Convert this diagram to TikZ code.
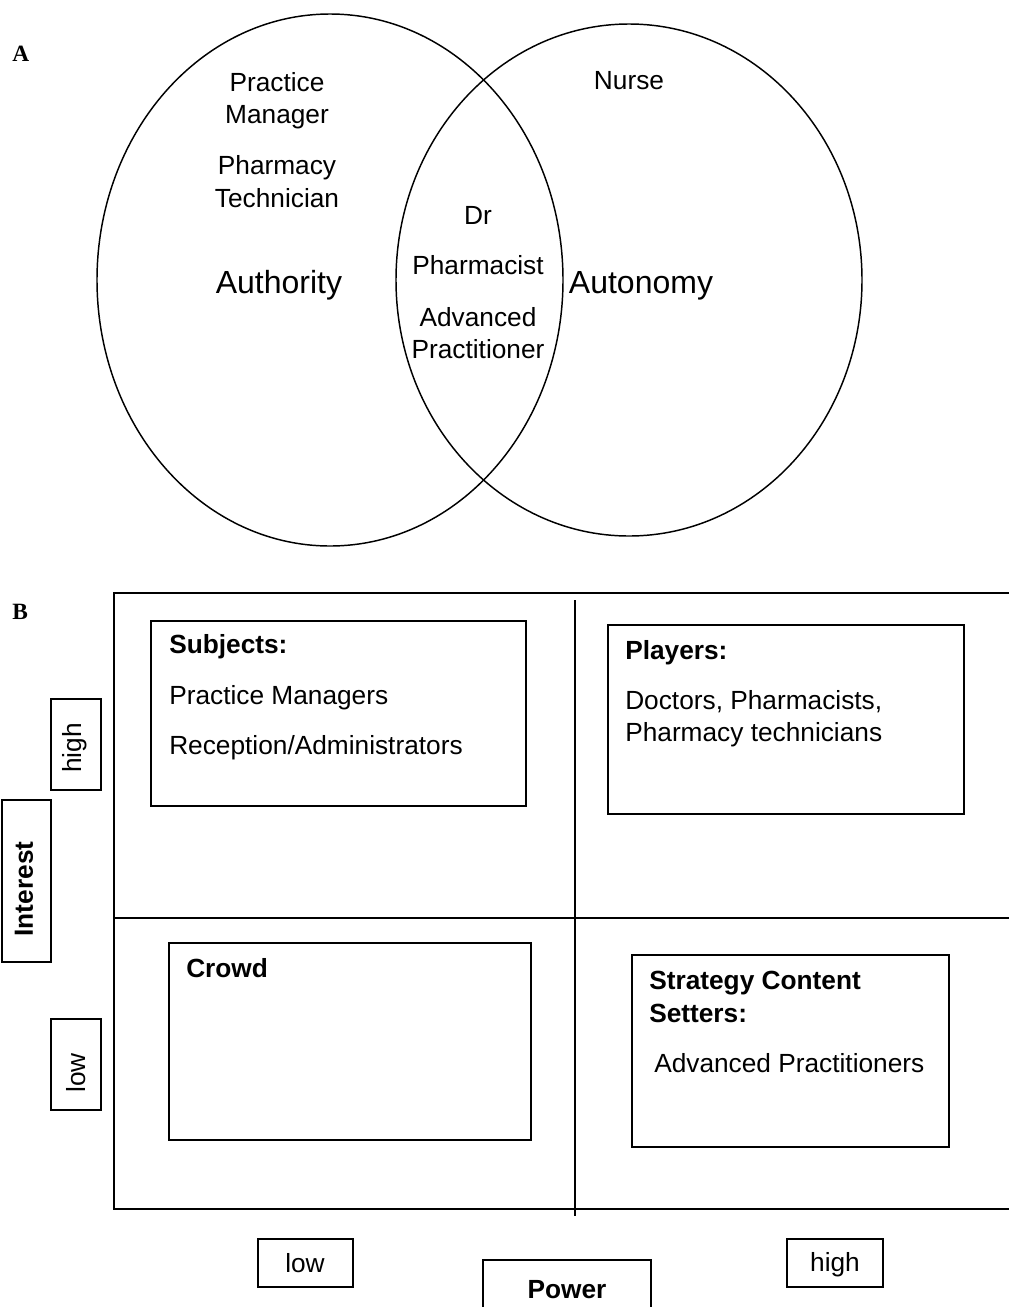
\documentclass[tikz,border=0pt]{standalone}
\usepackage{fontspec}
\setmainfont{Liberation Sans}
\newfontfamily\panelfont{Liberation Serif}

\tikzset{
    txt/.style={font=\fontsize{19.7}{24}\selectfont, inner sep=0pt, anchor=base},
    txtl/.style={txt, anchor=base west},
    txtb/.style={txtl, font=\bfseries\fontsize{19.7}{24}\selectfont},
    bigtxt/.style={font=\fontsize{24}{29}\selectfont, inner sep=0pt, anchor=base},
    panel/.style={font=\panelfont\bfseries\fontsize{17.5}{20}\selectfont, inner sep=0pt, anchor=base west},
    venn/.style={line width=1.1pt},
    gridline/.style={line width=1.5pt},
    box/.style={line width=1pt},
}

\begin{document}
\begin{tikzpicture}[x=0.75pt, y=-0.75pt]
    \useasboundingbox (0,0) rectangle (1009,1307);

    % panel A: venn diagram
    \node[panel] (labA) at (12,61) {A};
    \draw[venn] (330,280) ellipse [x radius=233, y radius=266];
    \draw[venn] (629,280) ellipse [x radius=233, y radius=256];

    \node[txt] (pm1) at (277,91) {Practice};
    \node[txt] (pm2) at (277,123) {Manager};
    \node[txt] (pt1) at (277,174) {Pharmacy};
    \node[txt] (pt2) at (277,207) {Technician};
    \node[bigtxt] (auth) at (279,293) {Authority};

    \node[txt] (nurse) at (629,89) {Nurse};
    \node[bigtxt] (auton) at (641,293) {Autonomy};

    \node[txt] (dr) at (478,224) {Dr};
    \node[txt] (pharm) at (478,274) {Pharmacist};
    \node[txt] (adv1) at (478,326) {Advanced};
    \node[txt] (adv2) at (478,358) {Practitioner};

    % panel B: power / interest grid
    \node[panel] (labB) at (12,619) {B};
    \draw[gridline] (1015,593) -- (114,593) -- (114,1209) -- (1015,1209);
    \draw[gridline] (114,918) -- (1015,918);
    \draw[gridline] (575,600) -- (575,1216);

    \draw[box] (151,621) rectangle (526,806);
    \node[txtb] (subj) at (169,653) {Subjects:};
    \node[txtl] (subj1) at (169,704) {Practice Managers};
    \node[txtl] (subj2) at (169,754) {Reception/Administrators};

    \draw[box] (608,625) rectangle (964,814);
    \node[txtb] (play) at (625,659) {Players:};
    \node[txtl] (play1) at (625,709) {Doctors, Pharmacists,};
    \node[txtl] (play2) at (625,741) {Pharmacy technicians};

    \draw[box] (169,943) rectangle (531,1140);
    \node[txtb] (crowd) at (186,977) {Crowd};

    \draw[box] (632,955) rectangle (949,1147);
    \node[txtb] (strat1) at (649,989) {Strategy Content};
    \node[txtb] (strat2) at (649,1022) {Setters:};
    \node[txtl] (strat3) at (654,1072) {Advanced Practitioners};

    % axis labels
    \draw[box] (51,699) rectangle (101,790);
    \node[txt, anchor=center, rotate=90] (ihigh) at (75,748) {high};
    \draw[box] (2,800) rectangle (51,962);
    \node[txtb, anchor=center, rotate=90] (interest) at (24,889) {Interest};
    \draw[box] (51,1019) rectangle (101,1110);
    \node[txt, anchor=center, rotate=90] (ilow) at (76,1073) {low};

    \draw[box] (258,1239) rectangle (353,1287);
    \node[txt] (plow) at (305,1272) {low};
    \draw[box] (787,1239) rectangle (883,1287);
    \node[txt] (phigh) at (835,1271) {high};
    \draw[box] (483,1320) -- (483,1260) -- (651,1260) -- (651,1320);
    \node[txtb, anchor=base] (power) at (567,1298) {Power};
\end{tikzpicture}
\end{document}
